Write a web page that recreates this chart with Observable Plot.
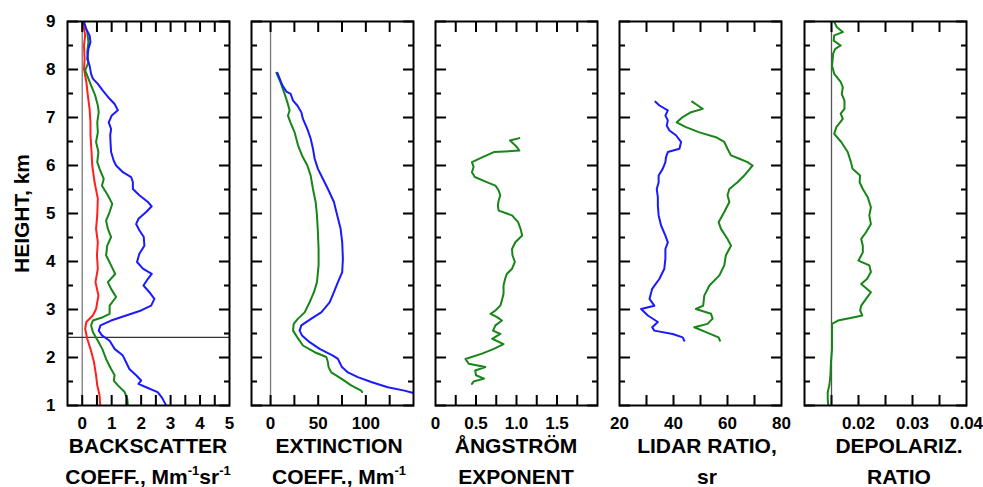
<!DOCTYPE html>
<html>
<head>
<meta charset="utf-8">
<script src="https://cdn.jsdelivr.net/npm/d3@7"></script>
<script src="https://cdn.jsdelivr.net/npm/@observablehq/plot@0.6"></script>
<style>
  html, body { margin: 0; padding: 0; background: #fff; }
  #wrap { position: relative; width: 983px; height: 487px; background: #fff; overflow: hidden;
          font-family: "Liberation Sans", Arial, sans-serif; color: #000; }
  .pan { position: absolute; top: 0; }
  .pan g[aria-label$="tick label"] text, .pan g[aria-label$="tick label"] { font-weight: bold; }
  .ttl { position: absolute; font-size: 21px; line-height: 21px; white-space: nowrap; font-weight: bold;
         transform: translateX(-50%); text-align: center; }
  .sup { font-size: 13px; position: relative; top: -9px; }
</style>
</head>
<body>
<div id="wrap"></div>
<script>
// ---------------- data: [height km, value] ----------------
const heightTicksMajor = [1, 2, 3, 4, 5, 6, 7, 8, 9];
const heightTicksMinor = [1.5, 2.5, 3.5, 4.5, 5.5, 6.5, 7.5, 8.5];
const pblTop = [2.42];

const bscBlue = [[8.99,0.05],[8.85,0.13],[8.71,0.25],[8.57,0.28],[8.43,0.21],[8.22,0.17],[8.08,0.25],[7.91,0.30],[7.81,0.36],[7.70,0.53],[7.56,0.70],[7.39,0.93],[7.28,1.10],[7.15,1.21],[7.04,1.00],[6.90,0.90],[6.76,0.98],[6.63,0.95],[6.49,0.96],[6.28,0.98],[6.10,1.07],[6.00,1.15],[5.86,1.38],[5.76,1.66],[5.65,1.72],[5.51,1.72],[5.38,1.94],[5.24,2.23],[5.15,2.36],[5.03,2.17],[4.89,1.91],[4.78,1.83],[4.65,1.94],[4.51,2.09],[4.33,2.11],[4.16,1.94],[3.99,1.86],[3.85,2.06],[3.74,2.36],[3.64,2.23],[3.50,2.08],[3.36,2.28],[3.22,2.45],[3.08,2.34],[2.98,2.00],[2.875,1.49],[2.77,0.98],[2.67,0.62],[2.56,0.56],[2.46,0.67],[2.35,0.93],[2.18,1.10],[2.04,1.38],[1.90,1.49],[1.76,1.60],[1.63,1.83],[1.52,2.00],[1.45,1.91],[1.38,2.17],[1.28,2.56],[1.17,2.70],[1.07,2.79],[1.00,2.85]];
const bscGreen = [[8.99,0.06],[8.78,0.17],[8.57,0.21],[8.36,0.17],[8.15,0.21],[7.98,0.10],[7.84,0.19],[7.67,0.30],[7.46,0.44],[7.25,0.53],[7.11,0.56],[6.90,0.51],[6.69,0.53],[6.49,0.47],[6.28,0.55],[6.07,0.51],[5.93,0.59],[5.72,0.73],[5.58,0.67],[5.38,0.87],[5.20,1.02],[5.03,0.93],[4.85,0.81],[4.68,0.87],[4.51,0.98],[4.33,0.85],[4.13,0.81],[3.92,0.98],[3.74,1.12],[3.57,0.87],[3.43,0.98],[3.26,1.15],[3.08,0.93],[2.91,0.93],[2.84,0.70],[2.77,0.36],[2.67,0.30],[2.53,0.36],[2.35,0.53],[2.18,0.68],[1.97,0.81],[1.76,0.98],[1.63,1.10],[1.52,1.07],[1.42,1.21],[1.28,1.44],[1.14,1.53],[1.00,1.55]];
const bscRed = [[8.99,0.02],[8.71,0.10],[8.50,0.06],[8.22,0.08],[8.01,0.06],[7.74,0.14],[7.46,0.19],[7.18,0.25],[6.90,0.28],[6.63,0.28],[6.35,0.31],[6.00,0.34],[5.65,0.42],[5.31,0.53],[4.96,0.51],[4.68,0.47],[4.40,0.53],[4.13,0.50],[3.85,0.53],[3.57,0.45],[3.29,0.55],[3.01,0.47],[2.875,0.36],[2.74,0.14],[2.60,0.10],[2.39,0.17],[2.18,0.28],[1.90,0.40],[1.63,0.47],[1.42,0.51],[1.21,0.59],[1.00,0.61]];

const extBlue = [[7.93,7.2],[7.81,9.6],[7.67,12.4],[7.54,16.6],[7.49,21.1],[7.35,23.6],[7.25,28.1],[7.11,32.3],[6.97,34.0],[6.76,38.6],[6.56,42.1],[6.35,44.5],[6.14,46.3],[5.93,49.7],[5.72,55.0],[5.51,60.2],[5.24,66.5],[4.96,70.0],[4.68,73.5],[4.40,75.2],[4.06,75.9],[3.78,75.2],[3.57,70.7],[3.36,66.5],[3.15,62.0],[2.94,53.2],[2.81,42.8],[2.67,32.3],[2.56,30.5],[2.46,33.0],[2.32,41.0],[2.18,51.5],[2.04,65.4],[1.97,70.7],[1.90,72.4],[1.80,74.9],[1.69,81.2],[1.59,91.6],[1.49,105.6],[1.38,123.0],[1.31,140.5],[1.26,150.0],[1.22,160.0]];
const extGreen = [[7.93,6.1],[7.74,10.3],[7.53,14.1],[7.32,17.6],[7.15,20.0],[7.04,18.3],[6.90,20.8],[6.69,25.3],[6.42,28.8],[6.21,33.0],[6.00,38.6],[5.79,42.1],[5.51,44.5],[5.24,47.3],[4.96,48.7],[4.61,49.7],[4.26,50.4],[3.92,50.4],[3.57,48.7],[3.36,45.5],[3.15,41.0],[2.94,35.8],[2.81,28.8],[2.70,24.3],[2.56,23.6],[2.42,28.1],[2.25,34.0],[2.11,46.3],[2.01,58.5],[1.90,60.2],[1.80,60.9],[1.69,63.7],[1.56,74.2],[1.42,84.6],[1.31,95.1],[1.28,96.0]];

const angstrom = [[6.57,1.035],[6.52,0.92],[6.45,0.965],[6.38,1.006],[6.31,1.035],[6.28,0.72],[6.17,0.575],[6.07,0.45],[5.97,0.47],[5.86,0.45],[5.76,0.485],[5.65,0.64],[5.58,0.74],[5.48,0.78],[5.38,0.80],[5.27,0.78],[5.17,0.77],[5.06,0.78],[4.96,0.945],[4.82,1.02],[4.68,1.05],[4.54,1.07],[4.40,0.985],[4.26,0.945],[4.13,0.95],[3.99,0.98],[3.85,0.945],[3.74,0.88],[3.64,0.86],[3.50,0.84],[3.33,0.84],[3.19,0.82],[3.08,0.80],[2.98,0.74],[2.91,0.68],[2.84,0.76],[2.77,0.82],[2.67,0.74],[2.56,0.71],[2.49,0.80],[2.39,0.70],[2.28,0.84],[2.18,0.72],[2.08,0.575],[1.97,0.37],[1.87,0.41],[1.80,0.615],[1.73,0.49],[1.63,0.50],[1.56,0.60],[1.50,0.47],[1.45,0.45]];

const lidarBlue = [[7.33,33.3],[7.25,34.8],[7.15,37.9],[7.04,37.0],[6.94,37.9],[6.83,37.5],[6.73,38.5],[6.63,40.9],[6.49,42.8],[6.35,42.2],[6.28,37.9],[6.17,37.2],[6.07,37.0],[5.93,36.0],[5.79,34.5],[5.65,34.5],[5.51,33.8],[5.34,34.2],[5.17,34.2],[4.96,34.5],[4.75,35.4],[4.54,37.0],[4.40,37.9],[4.26,37.0],[4.06,37.0],[3.85,36.6],[3.64,34.8],[3.43,32.1],[3.22,31.1],[3.08,32.9],[3.01,28.0],[2.875,30.5],[2.74,34.2],[2.63,32.1],[2.56,32.9],[2.49,39.7],[2.42,43.4],[2.35,44.0]];
const lidarGreen = [[7.33,46.9],[7.25,49.0],[7.18,50.8],[7.11,46.5],[7.01,43.4],[6.90,41.2],[6.80,44.6],[6.69,49.6],[6.59,55.7],[6.49,58.8],[6.35,60.0],[6.21,61.3],[6.14,64.4],[6.07,67.4],[6.00,69.3],[5.90,67.8],[5.79,66.2],[5.65,63.7],[5.51,60.7],[5.38,60.0],[5.24,60.7],[5.03,58.8],[4.82,56.7],[4.68,57.6],[4.47,60.0],[4.33,61.3],[4.13,59.4],[3.92,58.8],[3.71,57.0],[3.50,53.3],[3.29,51.4],[3.08,51.0],[3.01,48.3],[2.91,53.9],[2.81,54.5],[2.70,52.6],[2.63,47.7],[2.53,52.0],[2.42,56.7],[2.35,57.2]];

const depol = [[8.99,0.0155],[8.88,0.0160],[8.78,0.0171],[8.71,0.0155],[8.60,0.0154],[8.50,0.0167],[8.43,0.0157],[8.33,0.0153],[8.19,0.0152],[8.08,0.0151],[7.91,0.0155],[7.74,0.0167],[7.63,0.0171],[7.49,0.0169],[7.35,0.0174],[7.18,0.0174],[7.08,0.0167],[6.97,0.0171],[6.80,0.0159],[6.66,0.0155],[6.49,0.0168],[6.28,0.0180],[6.07,0.0186],[5.93,0.0189],[5.79,0.0203],[5.65,0.0202],[5.51,0.0208],[5.34,0.0217],[5.13,0.0223],[4.96,0.0220],[4.78,0.0223],[4.61,0.0214],[4.47,0.0205],[4.33,0.0208],[4.19,0.0208],[4.02,0.0200],[3.92,0.0220],[3.78,0.0223],[3.64,0.0216],[3.53,0.0205],[3.36,0.0223],[3.22,0.0214],[3.08,0.0205],[2.98,0.0203],[2.875,0.0207],[2.84,0.0192],[2.77,0.0162],[2.70,0.0151],[2.46,0.0151],[2.18,0.0151],[1.90,0.0149],[1.63,0.0148],[1.42,0.0146],[1.28,0.0143],[1.14,0.0143],[1.00,0.0144]];
const depolMolecular = [0.015];

// tick values per panel
const bscTicks = [0, 0.5, 1, 1.5, 2, 2.5, 3, 3.5, 4, 4.5];
const bscLabels = [0, 1, 2, 3, 4, 5];
const extTicks = [0, 25, 50, 75, 100, 125];
const extLabels = [0, 50, 100];
const angTicks = [0.25, 0.5, 0.75, 1, 1.25, 1.5, 1.75];
const angLabels = [0, 0.5, 1, 1.5];
const lrTicks = [30, 40, 50, 60, 70];
const lrLabels = [20, 40, 60, 80];
const dpTicks = [0.015, 0.02, 0.025, 0.03, 0.035];
const dpLabels = [0.02, 0.03, 0.04];

// ---------------- drawing ----------------
const BLUE = "#1a1aff", GREEN = "#178517", RED = "#ff1f1f";
const wrap = document.getElementById("wrap");
const H = 435, MT = 21, MB = 30;

function line(data, color) {
  return Plot.line(data, {x: d => d[1], y: d => d[0], stroke: color, strokeWidth: 2, clip: true});
}

function panel({svgLeft, width, marginLeft, marginRight, domain, ticks, labels, fmt, marks, yLabels}) {
  const m = [
    ...marks,
    Plot.frame({strokeWidth: 2}),
    Plot.axisX({ticks, anchor: "bottom", tickSize: -10, text: null, strokeWidth: 2, label: null}),
    Plot.axisX({ticks, anchor: "top", tickSize: -10, text: null, strokeWidth: 2, label: null}),
    Plot.axisX({ticks: labels, anchor: "bottom", tickSize: 0, tickPadding: 11, tickFormat: fmt,
                fontSize: 17, fontWeight: "bold", label: null}),
    Plot.axisY({ticks: heightTicksMajor, anchor: "left", tickSize: -11, text: null, strokeWidth: 2, label: null}),
    Plot.axisY({ticks: heightTicksMinor, anchor: "left", tickSize: -6, text: null, strokeWidth: 2, label: null}),
    Plot.axisY({ticks: heightTicksMajor, anchor: "right", tickSize: -11, text: null, strokeWidth: 2, label: null}),
    Plot.axisY({ticks: heightTicksMinor, anchor: "right", tickSize: -6, text: null, strokeWidth: 2, label: null})
  ];
  if (yLabels) {
    m.push(Plot.axisY({ticks: heightTicksMajor, anchor: "left", tickSize: 0, tickPadding: 12,
                       fontSize: 17, fontWeight: "bold", label: null}));
    m.push(Plot.text(["HEIGHT, km"], {frameAnchor: "left", text: d => d, rotate: -90, dx: -45,
                      fontSize: 21, fontWeight: "bold", lineAnchor: "middle", textAnchor: "middle"}));
  }
  const svg = Plot.plot({
    width, height: H, marginTop: MT, marginBottom: MB, marginLeft, marginRight,
    x: {domain, label: null},
    y: {domain: [1, 9], label: null},
    style: {background: "transparent", overflow: "visible", fontFamily: "'Liberation Sans', Arial, sans-serif", color: "#000"},
    marks: m
  });
  svg.classList.add("pan");
  svg.style.left = svgLeft + "px";
  svg.style.maxWidth = "none";
  wrap.appendChild(svg);
}

panel({svgLeft: 0, width: 240, marginLeft: 67, marginRight: 11, domain: [-0.5, 5],
  ticks: bscTicks, labels: bscLabels, fmt: d3.format("d"), yLabels: true,
  marks: [
    Plot.ruleX([0], {stroke: "#7a7a7a", strokeWidth: 1.3}),
    Plot.ruleY(pblTop, {stroke: "#333", strokeWidth: 1.3}),
    line(bscRed, RED), line(bscGreen, GREEN), line(bscBlue, BLUE)
  ]});

panel({svgLeft: 240, width: 184, marginLeft: 11, marginRight: 11, domain: [-20, 150],
  ticks: extTicks, labels: extLabels, fmt: d3.format("d"),
  marks: [
    Plot.ruleX([0], {stroke: "#7a7a7a", strokeWidth: 1.3}),
    line(extGreen, GREEN), line(extBlue, BLUE)
  ]});

panel({svgLeft: 424, width: 184, marginLeft: 11, marginRight: 11, domain: [0, 2],
  ticks: angTicks, labels: angLabels, fmt: d => d === 0 ? "0" : d.toFixed(1),
  marks: [ line(angstrom, GREEN) ]});

panel({svgLeft: 608, width: 184, marginLeft: 11, marginRight: 11, domain: [20, 80],
  ticks: lrTicks, labels: lrLabels, fmt: d3.format("d"),
  marks: [ line(lidarBlue, BLUE), line(lidarGreen, GREEN) ]});

panel({svgLeft: 793, width: 184, marginLeft: 11, marginRight: 11, domain: [0.01, 0.04],
  ticks: dpTicks, labels: dpLabels, fmt: d3.format(".2f"),
  marks: [
    Plot.ruleX(depolMolecular, {stroke: "#555", strokeWidth: 1.3}),
    line(depol, GREEN)
  ]});

// ---------------- titles ----------------
const titles = [
  {x: 148, l1: "BACKSCATTER", l2: 'COEFF., Mm<span class="sup">-1</span>sr<span class="sup">-1</span>'},
  {x: 339, l1: "EXTINCTION", l2: 'COEFF., Mm<span class="sup">-1</span>'},
  {x: 516, l1: "ÅNGSTRÖM", l2: "EXPONENT"},
  {x: 707, l1: "LIDAR RATIO,", l2: "sr"},
  {x: 899, l1: "DEPOLARIZ.", l2: "RATIO"}
];
for (const t of titles) {
  const a = document.createElement("div");
  a.className = "ttl"; a.style.left = t.x + "px"; a.style.top = "435px"; a.innerHTML = t.l1;
  const b = document.createElement("div");
  b.className = "ttl"; b.style.left = t.x + "px"; b.style.top = "466px"; b.innerHTML = t.l2;
  wrap.appendChild(a); wrap.appendChild(b);
}
</script>
</body>
</html>
